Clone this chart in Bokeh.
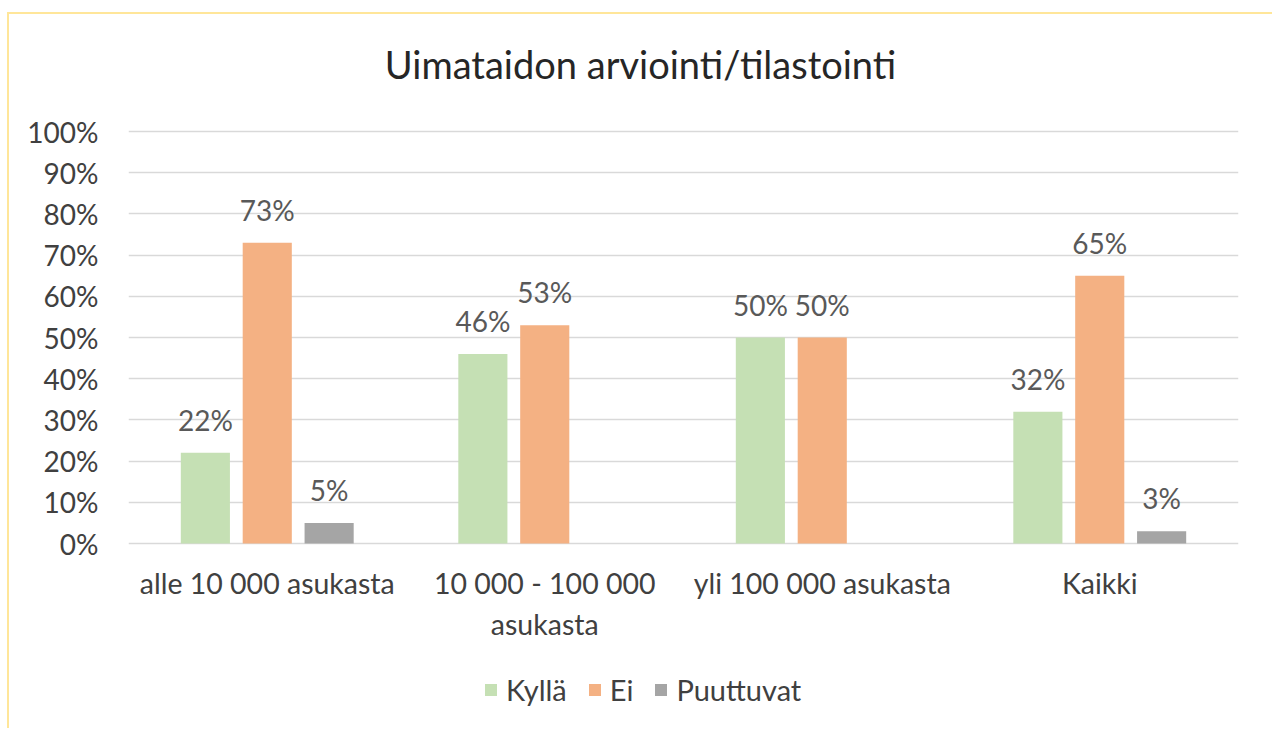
from bokeh.plotting import figure
from bokeh.models import ColumnDataSource, FactorRange, FixedTicker, NumeralTickFormatter, Legend, LegendItem, Range1d
from bokeh.transform import dodge
from bokeh.embed import file_html
from bokeh.resources import INLINE

title_text = "Uimataidon arviointi/tilastointi"
categories = ["alle 10 000 asukasta", "10 000 - 100 000 asukasta", "yli 100 000 asukasta", "Kaikki"]
category_labels = ["alle 10 000 asukasta", "10 000 - 100 000\nasukasta", "yli 100 000 asukasta", "Kaikki"]
series_names = ["Kyllä", "Ei", "Puuttuvat"]
kylla = [0.22, 0.46, 0.50, 0.32]
ei = [0.73, 0.53, 0.50, 0.65]
puuttuvat = [0.05, 0.0, 0.0, 0.03]
y_ticks = [0.0, 0.1, 0.2, 0.3, 0.4, 0.5, 0.6, 0.7, 0.8, 0.9, 1.0]

colors = ["#C5E0B4", "#F4B183", "#A5A5A5"]
FONT = "Lato"

# page layout (pixels)
PAGE_W, PAGE_H = 1274, 730
OX, OY = 9, 14                       # figure content origin (margin + border)
FR_L, FR_R, FR_B = 128, 1238, 724    # frame left/right/bottom
FR_T = OY                            # frame reaches the top of the figure (title lives inside)
Y0, Y100 = 543, 131                  # pixel rows of 0 % and 100 %
TITLE_CX = 640                       # title centre column
px_per_unit = Y0 - Y100
y_bottom = -(FR_B - Y0) / px_per_unit
y_top = (Y0 - FR_T) / px_per_unit
title_x = (TITLE_CX - FR_L) / ((FR_R - FR_L) / len(categories))

W, H = PAGE_W - OX, PAGE_H - OY
p = figure(x_range=FactorRange(*categories, range_padding=0), y_range=Range1d(y_bottom, y_top),
           width=W, height=H, output_backend="svg", toolbar_location=None,
           min_border_left=FR_L - OX, min_border_right=PAGE_W - FR_R,
           min_border_top=0, min_border_bottom=PAGE_H - FR_B)

p.outline_line_color = None
p.background_fill_color = "white"
p.border_fill_color = "white"

# title
tsrc = ColumnDataSource(dict(x=[title_x], y=[1.0], t=[title_text]))
p.text(x="x", y="y", text="t", source=tsrc, text_align="center", text_baseline="top",
       y_offset=-91, text_font_size="38px", text_color="#262626", text_font={"value": FONT})

src = ColumnDataSource(dict(cat=categories, k=kylla, e=ei, pu=puuttuvat))

offsets = [-0.223, 0.0, 0.223]
cols = ["k", "e", "pu"]
series_vals = [kylla, ei, puuttuvat]
renderers = []
for off, col, color in zip(offsets, cols, colors):
    r = p.vbar(x=dodge("cat", off, range=p.x_range), top=col, width=0.177, source=src,
               fill_color=color, line_color=None)
    renderers.append(r)

# data labels
for off, vals in zip(offsets, series_vals):
    cs = [c for c, v in zip(categories, vals) if v > 0]
    vs = [v for v in vals if v > 0]
    ls = ["%d%%" % round(v * 100) for v in vs]
    lsrc = ColumnDataSource(dict(cat=cs, v=vs, t=ls))
    p.text(x=dodge("cat", off, range=p.x_range), y="v", text="t", source=lsrc,
           text_align="center", text_baseline="alphabetic", y_offset=-33,
           text_font_size="28px", text_color="#595959", text_font={"value": FONT})

# category labels (drawn below the 0 % line)
csrc = ColumnDataSource(dict(cat=categories, y=[0.0] * len(categories), t=category_labels))
p.text(x="cat", y="y", text="t", source=csrc, text_align="center", text_baseline="top",
       y_offset=22, text_font_size="28.5px", text_color="#404040", text_line_height=1.22,
       text_font={"value": FONT})

p.xaxis.visible = False

p.yaxis.ticker = FixedTicker(ticks=y_ticks)
p.yaxis.formatter = NumeralTickFormatter(format="0%")
p.yaxis.axis_line_color = None
p.yaxis.major_tick_line_color = None
p.yaxis.major_tick_out = 0
p.yaxis.minor_tick_line_color = None
p.yaxis.major_label_text_font = FONT
p.yaxis.major_label_text_font_size = "28px"
p.yaxis.major_label_text_color = "#404040"
p.yaxis.major_label_standoff = 30

p.xgrid.grid_line_color = None
p.ygrid.grid_line_color = "#D9D9D9"
p.ygrid.grid_line_width = 1.5

legend = Legend(items=[LegendItem(label=n, renderers=[r]) for n, r in zip(series_names, renderers)],
                orientation="horizontal", location=(355, 17),
                glyph_width=15, glyph_height=15, label_standoff=8, spacing=20,
                label_text_font=FONT, label_text_font_size="29px", label_text_color="#404040",
                border_line_color=None, background_fill_alpha=0, margin=0, padding=5)
p.add_layout(legend)

p.styles = {"margin-left": "7px", "margin-top": "12px",
            "border-left": "2px solid #FFE699", "border-top": "2px solid #FFE699"}

open("out.html", "w").write(file_html(p, INLINE))
